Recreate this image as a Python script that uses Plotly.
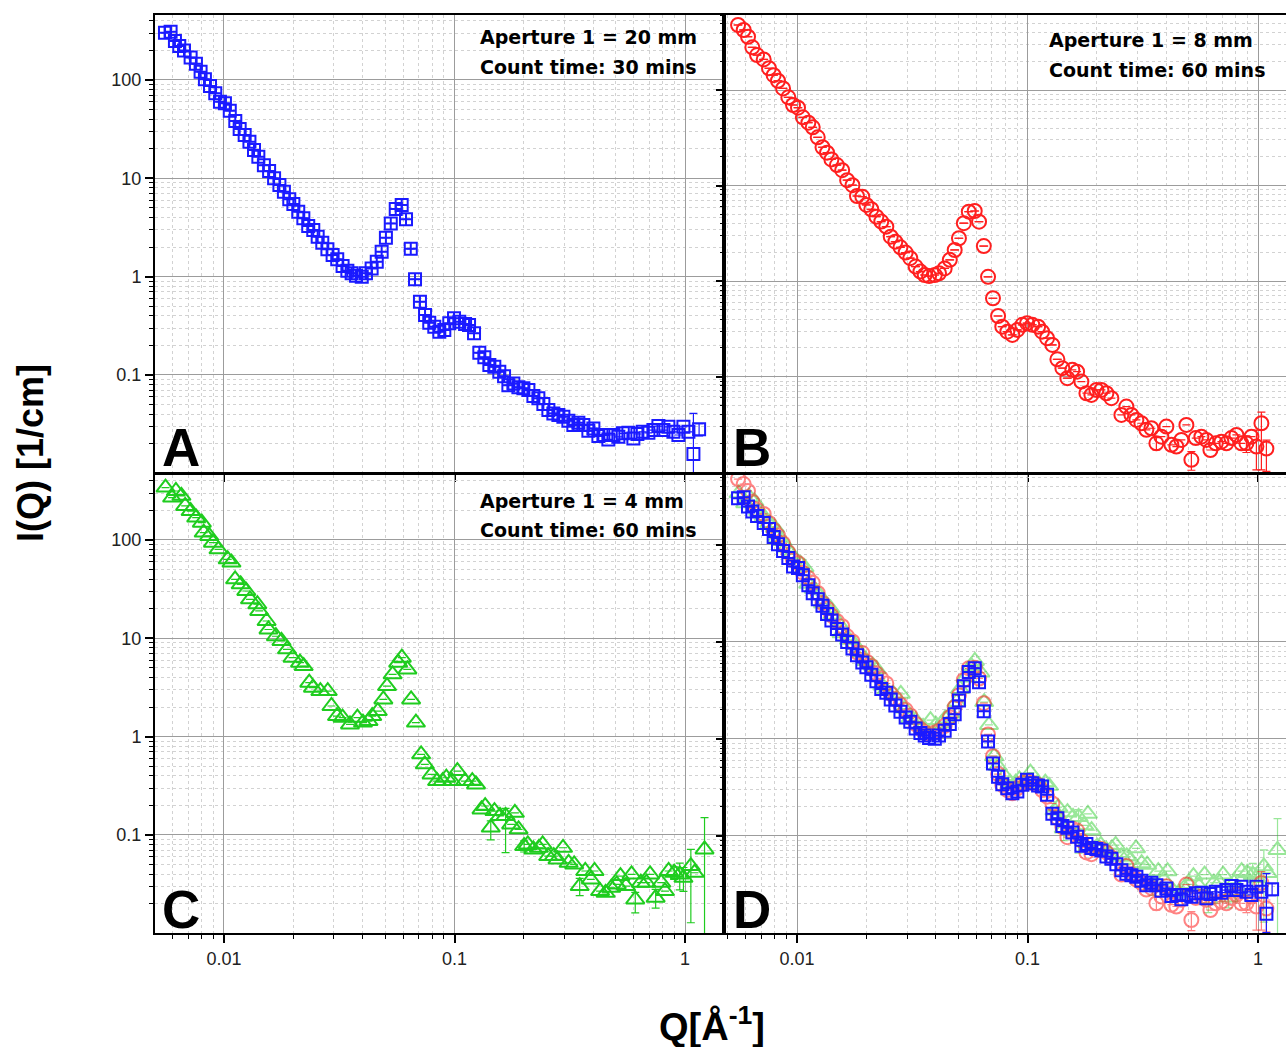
import plotly.graph_objects as go

# Q grid [1/A] shared by panels A and B
q = [0.00555, 0.00587, 0.00613, 0.00640, 0.00671, 0.00717, 0.00756, 0.00792, 0.00827, 0.00870,
     0.00917, 0.00961, 0.0101, 0.0106, 0.0112, 0.0117, 0.0123, 0.0129, 0.0135, 0.0141,
     0.0149, 0.0157, 0.0165, 0.0174, 0.0182, 0.0192, 0.0200, 0.0210, 0.0221, 0.0232,
     0.0244, 0.0255, 0.0267, 0.0281, 0.0296, 0.0310, 0.0327, 0.0343, 0.0358, 0.0374,
     0.0396, 0.0413, 0.0437, 0.0460, 0.0483, 0.0504, 0.0529, 0.0556, 0.0590, 0.0616,
     0.0646, 0.0674, 0.0708, 0.0745, 0.0777, 0.0817, 0.0859, 0.0903, 0.0949, 0.0995,
     0.1049, 0.1111, 0.1156, 0.1215, 0.1281, 0.1347, 0.1416, 0.1488, 0.1564, 0.1640,
     0.1712, 0.1800, 0.1892, 0.1989, 0.2091, 0.2198, 0.2310, 0.2428, 0.2553, 0.2683,
     0.2821, 0.2965, 0.3117, 0.3276, 0.3444, 0.3620, 0.3806, 0.4001, 0.4206, 0.4421,
     0.4647, 0.4886, 0.5135, 0.5366, 0.5675, 0.5966, 0.6210, 0.6554, 0.6931, 0.7287,
     0.7660, 0.8053, 0.8462, 0.8898, 0.9352, 0.9831, 1.0335, 1.0864, 1.150]

# aperture 20 mm, 30 mins
I_A = [303, 310, 249, 222, 199, 169, 146, 121, 102, 86.9,
       73.3, 60.1, 57.9, 48.8, 38.3, 31.8, 27.6, 23.6, 19.4, 16.6,
       13.6, 11.9, 10.0, 8.55, 7.30, 6.11, 5.48, 4.57, 3.92, 3.27,
       2.98, 2.55, 2.21, 1.90, 1.66, 1.50, 1.28, 1.15, 1.08, 1.02,
       1.00, 1.08, 1.21, 1.42, 1.79, 2.49, 3.48, 4.88, 5.35, 3.83,
       1.92, 0.94, 0.556, 0.407, 0.340, 0.309, 0.275, 0.286, 0.335, 0.377,
       0.348, 0.330, 0.322, 0.265, 0.168, 0.151, 0.126, 0.121, 0.108, 0.0973,
       0.0788, 0.0820, 0.0748, 0.0731, 0.0702, 0.0610, 0.0578, 0.0506, 0.0440, 0.0406,
       0.0391, 0.0376, 0.0342, 0.0309, 0.0327, 0.0309, 0.0270, 0.0286, 0.0239, 0.0245,
       0.0221, 0.0245, 0.0235, 0.0255, 0.0258, 0.0226, 0.0251, 0.0264, 0.0258, 0.0275,
       0.0302, 0.0275, 0.0297, 0.0264, 0.0245, 0.0297, 0.0264, 0.0157, 0.0280]
err_A = {107: (0.025, 0.0057), 108: (0.004, 0.004)}

# aperture 8 mm, 60 mins
q_B = q[:77] + q[78:108]
I_B = [479, 425, 361, 280, 232, 209, 169, 143, 125, 104,
       83.9, 69.7, 65.3, 51.8, 45.5, 40.7, 32.0, 25.2, 22.1, 18.8,
       16.4, 14.5, 11.4, 10.1, 7.78, 7.66, 6.27, 5.65, 4.73, 4.20,
       3.72, 2.92, 2.59, 2.26, 1.99, 1.74, 1.42, 1.26, 1.16, 1.13,
       1.16, 1.21, 1.36, 1.67, 2.12, 2.81, 4.04, 5.33, 5.42, 4.19,
       2.33, 1.11, 0.662, 0.432, 0.334, 0.296, 0.274, 0.309, 0.349, 0.363,
       0.349, 0.334, 0.296, 0.253, 0.215, 0.152, 0.123, 0.0965, 0.118, 0.113,
       0.0889, 0.0672, 0.0645, 0.0728, 0.0728, 0.0672, 0.0596,
       0.0398, 0.0487, 0.0398, 0.0353, 0.0326, 0.0278, 0.0289, 0.0201, 0.0236, 0.0301,
       0.0194, 0.0186, 0.0218, 0.0313, 0.0135, 0.0228, 0.0236, 0.0218, 0.0171, 0.0201,
       0.0209, 0.0201, 0.0228, 0.0246, 0.0201, 0.0201, 0.0236, 0.0186, 0.0326, 0.0177]
err_B = {84: (0.003, 0.003), 91: (0.003, 0.003), 102: (0.004, 0.004),
         104: (0.009, 0.008), 105: (0.010, 0.022), 106: (0.004, 0.0075)}

# aperture 4 mm, 60 mins
q_C = [0.00558, 0.00596, 0.00619, 0.00654, 0.00679, 0.00717, 0.00758, 0.00802, 0.00817, 0.00863,
       0.00896, 0.00947, 0.01038, 0.01078, 0.01118, 0.01182, 0.01250, 0.01297, 0.01396, 0.01422,
       0.01531, 0.01560, 0.01680, 0.01776, 0.01877, 0.01984, 0.02137, 0.02217, 0.02344, 0.02432,
       0.02619, 0.02820, 0.02926, 0.03093, 0.03269, 0.03521, 0.03792, 0.04008, 0.04236, 0.04396,
       0.04647, 0.04912, 0.05097, 0.05388, 0.05695, 0.05909, 0.06246, 0.06482, 0.06801, 0.07163,
       0.07432, 0.07948, 0.08401, 0.08880, 0.09213, 0.09739, 0.1029, 0.1109, 0.1194, 0.1239,
       0.1309, 0.1358, 0.1436, 0.1490, 0.1575, 0.1665, 0.1760, 0.1827, 0.1896, 0.2004,
       0.2079, 0.2198, 0.2323, 0.2411, 0.2548, 0.2694, 0.2796, 0.2955, 0.3124, 0.3302,
       0.3490, 0.3690, 0.3900, 0.4047, 0.4278, 0.4522, 0.4780, 0.5053, 0.5243, 0.5542,
       0.5858, 0.6079, 0.6427, 0.6794, 0.7049, 0.7452, 0.7877, 0.8175, 0.8481, 0.8966,
       0.9478, 0.9836, 1.059, 1.099, 1.214]
I_C = [341, 270, 315, 281, 222, 197, 169, 150, 119, 110,
       94.0, 80.4, 63.6, 58.9, 39.8, 35.4, 30.3, 24.9, 22.2, 19.0,
       15.0, 12.3, 10.5, 9.40, 7.73, 6.35, 5.65, 5.22, 3.54, 3.15,
       2.91, 2.91, 2.05, 1.62, 1.56, 1.33, 1.56, 1.39, 1.44, 1.62,
       1.82, 2.39, 3.27, 4.30, 5.65, 6.35, 4.83, 2.39, 1.39, 0.661,
       0.523, 0.413, 0.353, 0.353, 0.382, 0.353, 0.447, 0.353, 0.353, 0.327,
       0.182, 0.197, 0.119, 0.175, 0.156, 0.156, 0.128, 0.168, 0.114, 0.0771,
       0.0802, 0.0713, 0.0741, 0.0802, 0.0610, 0.0610, 0.0564, 0.0741, 0.0521, 0.0502,
       0.0302, 0.0430, 0.0353, 0.0430, 0.0269, 0.0258, 0.0290, 0.0314, 0.0382, 0.0302,
       0.0397, 0.0221, 0.0327, 0.0327, 0.0397, 0.0230, 0.0327, 0.0269, 0.0430, 0.0413,
       0.0397, 0.0367, 0.0483, 0.0413, 0.0713]
err_C = {62: (0.02, 0.03), 65: (0.03, 0.09), 69: (0.01, 0.01), 80: (0.006, 0.006),
         91: (0.004, 0.006), 95: (0.005, 0.005), 99: (0.006, 0.006), 100: (0.012, 0.012),
         101: (0.010, 0.010), 102: (0.023, 0.0355), 104: (0.079, 0.065)}

x_ticks = [0.01, 0.1, 1]
x_labels = ["0.01", "0.1", "1"]
y_ticks = [0.1, 1, 10, 100]
y_labels = ["0.1", "1", "10", "100"]
minor_vals = [k * 10.0 ** e for e in range(-3, 3) for k in range(2, 10)]

captions = {
    "A": ["Aperture 1 = 20 mm", "Count time: 30 mins"],
    "B": ["Aperture 1 = 8 mm", "Count time: 60 mins"],
    "C": ["Aperture 1 = 4 mm", "Count time: 60 mins"],
}

W, H = 1286, 1047
BLUE, RED, GREEN = "#1a1aff", "#ff1f1f", "#1fcc1f"

# letter, x px span, y px span, log x range, log y range, x labels, y labels, right frame
panels = [
    ("A", (155, 722), (15, 472), (-2.299, 0.160), (-1.987, 2.661), False, True, True),
    ("B", (726, 1286), (15, 472), (-2.308, 0.121), (-1.997, 2.785), False, False, False),
    ("C", (155, 722), (475, 933), (-2.299, 0.160), (-1.997, 2.661), True, True, True),
    ("D", (726, 1286), (475, 933), (-2.308, 0.121), (-2.004, 2.722), True, False, False),
]

tickfont = dict(family="Liberation Sans, Arial", size=18, color="#222")


def err_arrays(n, errs):
    plus = [errs.get(i, (0, 0))[0] for i in range(n)]
    minus = [errs.get(i, (0, 0))[1] for i in range(n)]
    return plus, minus


def series(qv, iv, errs, symbol, color, size, opacity, xa, ya, ex=None):
    plus, minus = err_arrays(len(iv), errs)
    tr = go.Scatter(
        x=qv, y=iv, mode="markers", xaxis=xa, yaxis=ya, opacity=opacity,
        marker=dict(symbol=symbol, size=size, color=color,
                    line=dict(color=color, width=2)),
        error_y=dict(type="data", array=plus, arrayminus=minus, color=color,
                     thickness=1.2, width=4, visible=True),
        showlegend=False, hoverinfo="skip",
    )
    if ex is not None:
        tr.error_x = dict(type="data", array=ex, color=color, thickness=1.2,
                          width=0, visible=True)
    return tr


sym_A = ["square-cross-open" if v < 0.45 else "square-open" for v in q]
ex_B = [0.045 * v if v < 0.15 else 0 for v in q_B]

fig = go.Figure()
layout = {}
for n, (name, (px0, px1), (py0, py1), xr, yr, xl, yl, right) in enumerate(panels, start=1):
    sfx = "" if n == 1 else str(n)
    xa, ya = "x" + sfx, "y" + sfx
    xdom = [px0 / W, px1 / W]
    ydom = [1 - py1 / H, 1 - py0 / H]
    common = dict(type="log", showline=True, linecolor="black", linewidth=2,
                  ticks="outside", ticklen=8, tickwidth=1.5, tickcolor="black",
                  tickmode="array", zeroline=False, showgrid=True,
                  gridcolor="#9c9c9c", gridwidth=1, tickfont=tickfont,
                  automargin=False, fixedrange=True,
                  minor=dict(tickmode="array", tickvals=minor_vals, ticks="outside",
                             ticklen=4, tickwidth=1.2, tickcolor="black",
                             showgrid=True, gridcolor="#d2d2d2", griddash="dot",
                             gridwidth=1))
    layout["xaxis" + sfx] = dict(common, range=list(xr), domain=xdom, anchor=ya,
                                 mirror=True, tickvals=x_ticks, ticktext=x_labels,
                                 showticklabels=xl)
    layout["yaxis" + sfx] = dict(common, range=list(yr), domain=ydom, anchor=xa,
                                 mirror=right, tickvals=y_ticks, ticktext=y_labels,
                                 showticklabels=yl)
    inner = dict(type="log", showline=False, ticks="inside", ticklen=8, tickwidth=1.5,
                 tickcolor="black", tickmode="array", showticklabels=False,
                 showgrid=False, zeroline=False, fixedrange=True,
                 minor=dict(tickmode="array", tickvals=minor_vals, ticks="inside",
                            ticklen=4, tickwidth=1.2, tickcolor="black", showgrid=False))
    layout["xaxis" + str(n + 4)] = dict(inner, range=list(xr), domain=xdom,
                                        overlaying=xa, side="top", anchor=ya,
                                        tickvals=x_ticks)
    if right:
        layout["yaxis" + str(n + 4)] = dict(inner, range=list(yr), domain=ydom,
                                            overlaying=ya, side="right", anchor=xa,
                                            tickvals=y_ticks)

    if name == "A":
        fig.add_trace(series(q, I_A, err_A, sym_A, BLUE, 12, 1, xa, ya))
    elif name == "B":
        fig.add_trace(series(q_B, I_B, err_B, "circle-open", RED, 14, 1, xa, ya, ex_B))
    elif name == "C":
        fig.add_trace(series(q_C, I_C, err_C, "triangle-up-open", GREEN, 16, 1, xa, ya))
    else:
        fig.add_trace(series(q_C, I_C, err_C, "triangle-up-open", GREEN, 16, 0.45, xa, ya))
        fig.add_trace(series(q_B, I_B, err_B, "circle-open", RED, 14, 0.55, xa, ya))
        fig.add_trace(series(q, I_A, err_A, sym_A, BLUE, 12, 1, xa, ya))

fig.update_layout(**layout)

# white boxes behind the captions
boxes = {"A": ("x", "y", 0.538, 0.868), "B": ("x2", "y2", 0.552, 0.849),
         "C": ("x3", "y3", 0.538, 0.860)}
for name, (xa, ya, bx0, by0) in boxes.items():
    fig.add_shape(type="rect", xref=xa + " domain", yref=ya + " domain",
                  x0=bx0, x1=1, y0=by0, y1=1, fillcolor="white",
                  line=dict(width=0), layer="below")

caption_pos = {"A": (478, 37, 67), "B": (1047, 40, 70), "C": (478, 501, 530)}
capfont = dict(family="DejaVu Sans, Verdana", size=19, color="black")
for name, (cx, cy1, cy2) in caption_pos.items():
    for line, cy in zip(captions[name], (cy1, cy2)):
        fig.add_annotation(text="<b>%s</b>" % line, x=cx / W, y=1 - cy / H,
                           xref="paper", yref="paper", xanchor="left",
                           yanchor="middle", showarrow=False, font=capfont)

letter_pos = {"A": (160, 448), "B": (731, 448), "C": (160, 909), "D": (731, 909)}
for name, (lx, ly) in letter_pos.items():
    fig.add_annotation(text="<b>%s</b>" % name, x=lx / W, y=1 - ly / H,
                       xref="paper", yref="paper", xanchor="left", yanchor="middle",
                       showarrow=False,
                       font=dict(family="Liberation Sans, Arial", size=53, color="black"))

titlefont = dict(family="Liberation Sans, Arial", size=36, color="black")
fig.add_annotation(text="<b>I(Q) [1/cm]</b>", x=30 / W, y=1 - 453 / H, xref="paper",
                   yref="paper", xanchor="center", yanchor="middle", textangle=-90,
                   showarrow=False, font=titlefont)
fig.add_annotation(text="<b>Q[Å<sup>-1</sup>]</b>", x=712 / W, y=1 - 1024 / H,
                   xref="paper", yref="paper", xanchor="center", yanchor="middle",
                   showarrow=False, font=dict(titlefont, size=38))

fig.update_layout(width=W, height=H, autosize=False,
                  margin=dict(l=0, r=0, t=0, b=0),
                  paper_bgcolor="white", plot_bgcolor="white")

fig.write_html("out.html", config={"displayModeBar": False},
               post_script="document.body.style.margin = '0';")
